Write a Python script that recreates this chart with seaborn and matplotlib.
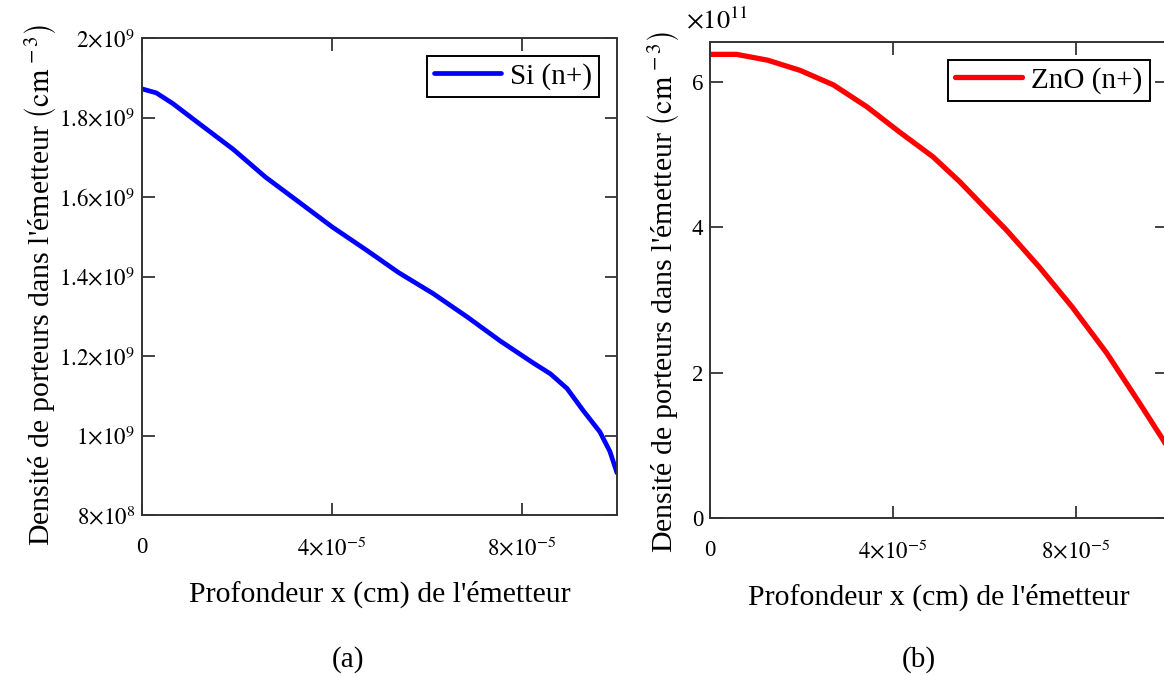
import matplotlib
matplotlib.use('Agg')
import numpy as np
import pandas as pd
import matplotlib.pyplot as plt
import seaborn as sns

# profondeur x en unites de 1e-5 cm
si_depth = [0, 0.3, 0.65, 1.2, 1.92, 2.6, 3.33, 4.0, 4.73, 5.4, 6.13, 6.85, 7.54, 8.23, 8.6, 8.95, 9.28, 9.64, 9.85, 10.0]
si_density = [1.872, 1.862, 1.835, 1.785, 1.72, 1.65, 1.585, 1.525, 1.466, 1.41, 1.357, 1.298, 1.238, 1.183, 1.155, 1.118, 1.064, 1.009, 0.96, 0.906]  # x1e9

zno_depth = [0, 0.58, 1.26, 1.97, 2.70, 3.43, 4.15, 4.88, 5.46, 6.49, 7.21, 7.93, 8.68, 9.40, 9.92, 10.0]
zno_density = [6.38, 6.38, 6.30, 6.16, 5.96, 5.66, 5.31, 4.97, 4.63, 3.96, 3.45, 2.90, 2.27, 1.58, 1.07, 0.98]  # x1e11

x_ticks = [0, 4e-5, 8e-5]
x_ticklabels = ['0', r'$4{\times}10^{-5}$', r'$8{\times}10^{-5}$']
si_yticks = [8e8, 1e9, 1.2e9, 1.4e9, 1.6e9, 1.8e9, 2e9]
si_yticklabels = [r'$8{\times}10^{8}$', r'$1{\times}10^{9}$', r'$1.2{\times}10^{9}$', r'$1.4{\times}10^{9}$',
                  r'$1.6{\times}10^{9}$', r'$1.8{\times}10^{9}$', r'$2{\times}10^{9}$']
zno_yticks = [0, 2e11, 4e11, 6e11]
zno_yticklabels = ['0', '2', '4', '6']

df_si = pd.DataFrame({'x': np.array(si_depth) * 1e-5, 'n': np.array(si_density) * 1e9})
df_zno = pd.DataFrame({'x': np.array(zno_depth) * 1e-5, 'n': np.array(zno_density) * 1e11})

sns.set_style('ticks')
plt.rcParams['font.family'] = ['Liberation Serif', 'DejaVu Serif']
plt.rcParams['mathtext.fontset'] = 'stix'
plt.rcParams['text.color'] = 'black'
plt.rcParams['axes.labelcolor'] = 'black'

W, H = 1164, 677
fig = plt.figure(figsize=(W / 100, H / 100), dpi=100)
ax1 = fig.add_axes([142 / W, 1 - 515 / H, 475 / W, 477 / H])
ax2 = fig.add_axes([710 / W, 1 - 518 / H, 457 / W, 476 / H])

sns.lineplot(data=df_si, x='x', y='n', ax=ax1, color='#0000ff', lw=3.4, label='Si (n+)')
sns.lineplot(data=df_zno, x='x', y='n', ax=ax2, color='#ff0000', lw=3.8, label='ZnO (n+)')

ylabel = r"Densité de porteurs dans l'émetteur $\left(\mathrm{cm}^{\,-3}_{\,}\right)$"
for ax in (ax1, ax2):
    ax.set_xlim(0, 1e-4)
    ax.set_xticks(x_ticks)
    ax.set_xticklabels(x_ticklabels)
    ax.tick_params(direction='in', length=9, width=1.2, top=True, right=True,
                   labelsize=16.5, colors='#222222', labelcolor='black')
    ax.tick_params(axis='x', pad=16)
    ax.tick_params(axis='y', pad=5)
    for sp in ax.spines.values():
        sp.set_linewidth(1.4)
        sp.set_color('#333333')
    ax.set_xlabel("Profondeur x (cm) de l'émetteur", fontsize=21.5, labelpad=14)
    ax.set_ylabel(ylabel, fontsize=21.5)
    leg = ax.legend(loc='upper right', bbox_to_anchor=(0.962, 0.963), borderaxespad=0,
                    fancybox=False, edgecolor='black', framealpha=1, fontsize=21,
                    handlelength=2.3, handletextpad=0.3, borderpad=0.25)
    leg.get_frame().set_linewidth(1.4)

ax1.set_ylim(8e8, 2e9)
ax1.set_yticks(si_yticks)
ax1.set_yticklabels(si_yticklabels)
ax1.yaxis.set_label_coords(-0.177, 0.482)

ax2.set_ylim(0, 6.55e11)
ax2.set_yticks(zno_yticks)
ax2.set_yticklabels(zno_yticklabels)
ax2.yaxis.set_label_coords(-0.063, 0.475)

fig.text(686 / W, 1 - 20 / H, r'$\times10^{11}$', fontsize=19, va='center', ha='left')
fig.text(348 / W, 1 - 660 / H, '(a)', fontsize=21, ha='center', va='center')
fig.text(919 / W, 1 - 660 / H, '(b)', fontsize=21, ha='center', va='center')

fig.savefig('out.png', dpi=100)
